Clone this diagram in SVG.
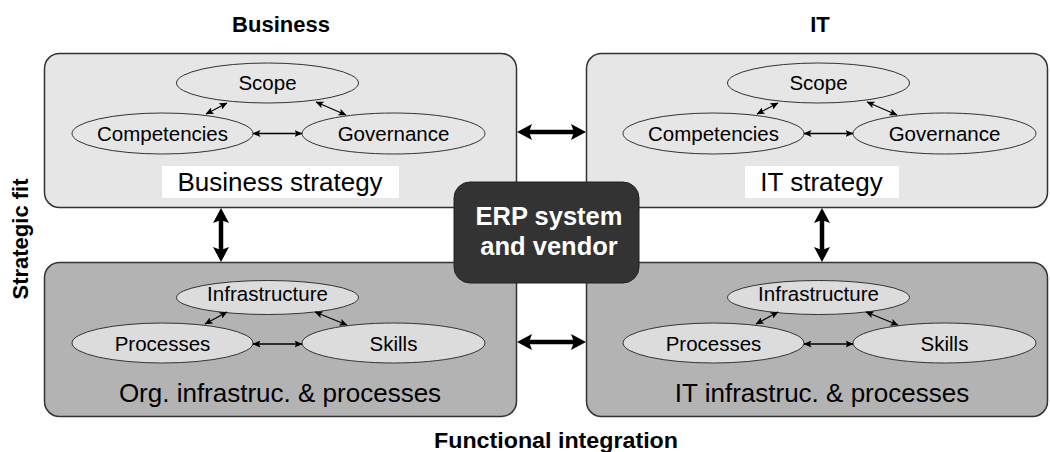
<svg xmlns="http://www.w3.org/2000/svg" width="1050" height="452" viewBox="0 0 1050 452">
<style>
  .title { font-family: "Liberation Sans", Arial, sans-serif; font-weight: bold; font-size: 22px; fill: #000; text-anchor: middle; }
  .box-light { fill: #e6e6e6; stroke: #333; stroke-width: 1.5; }
  .box-dark { fill: #b3b3b3; stroke: #333; stroke-width: 1.5; }
  .ell-light { fill: #e6e6e6; stroke: #333; stroke-width: 1; }
  .ell-dark { fill: #dcdcdc; stroke: #333; stroke-width: 1; }
  .lbl { font-family: "Liberation Sans", Arial, sans-serif; font-size: 20.5px; fill: #000; text-anchor: middle; }
  .big { font-family: "Liberation Sans", Arial, sans-serif; font-size: 26px; fill: #000; text-anchor: middle; }
  .erp { font-family: "Liberation Sans", Arial, sans-serif; font-weight: bold; font-size: 25.5px; fill: #fff; text-anchor: middle; }
  .thick { stroke: #000; stroke-width: 4.5; fill: none; marker-start: url(#bigHead); marker-end: url(#bigHead); }
  .thin { stroke: #000; stroke-width: 1.3; fill: none; marker-start: url(#smallHead); marker-end: url(#smallHead); }
</style>
<defs>
  <marker id="bigHead" viewBox="0 0 15 16" markerWidth="15" markerHeight="16" markerUnits="userSpaceOnUse" refX="10" refY="8" orient="auto-start-reverse">
    <path d="M0,0 L15,8 L0,16 L3,8 z" fill="#000"/>
  </marker>
  <marker id="smallHead" viewBox="0 0 8 7" markerWidth="8" markerHeight="7" markerUnits="userSpaceOnUse" refX="7.5" refY="3.5" orient="auto-start-reverse">
    <path d="M0,0 L8,3.5 L0,7 L1.8,3.5 z" fill="#000"/>
  </marker>
</defs>
<rect width="1050" height="452" fill="#fff"/>

<text class="title" x="281" y="32">Business</text>
<text class="title" x="820" y="32">IT</text>
<text class="title" x="556" y="448" textLength="244" lengthAdjust="spacingAndGlyphs">Functional integration</text>
<text class="title" font-size="21" transform="translate(28,239) rotate(-90)">Strategic fit</text>

<g id="business-strategy">
  <rect class="box-light" x="44.5" y="53.5" width="472" height="154" rx="15" ry="15"/>
  <ellipse class="ell-light" cx="267.5" cy="83" rx="91" ry="20"/>
  <ellipse class="ell-light" cx="162.5" cy="133.5" rx="90.5" ry="20.5"/>
  <ellipse class="ell-light" cx="393.5" cy="133.5" rx="91.5" ry="20.5"/>
  <text class="lbl" x="267.5" y="90">Scope</text>
  <text class="lbl" x="162.5" y="141">Competencies</text>
  <text class="lbl" x="393.5" y="141">Governance</text>
  <rect x="162" y="166" width="237" height="32" fill="#fff"/>
  <text class="big" x="280" y="191">Business strategy</text>
  <line class="thin" x1="253" y1="133.5" x2="302" y2="133.5"/>
  <line class="thin" x1="206" y1="114" x2="227" y2="103"/>
  <line class="thin" x1="316" y1="102" x2="346" y2="115"/>
</g>

<g id="it-strategy">
  <rect class="box-light" x="586.5" y="53.5" width="461" height="154" rx="15" ry="15"/>
  <ellipse class="ell-light" cx="818.5" cy="83" rx="91" ry="20"/>
  <ellipse class="ell-light" cx="713.5" cy="133.5" rx="90.5" ry="20.5"/>
  <ellipse class="ell-light" cx="944.5" cy="133.5" rx="91.5" ry="20.5"/>
  <text class="lbl" x="818.5" y="90">Scope</text>
  <text class="lbl" x="713.5" y="141">Competencies</text>
  <text class="lbl" x="944.5" y="141">Governance</text>
  <rect x="745" y="166" width="154" height="32" fill="#fff"/>
  <text class="big" x="821.5" y="191">IT strategy</text>
  <line class="thin" x1="804" y1="133.5" x2="853" y2="133.5"/>
  <line class="thin" x1="757" y1="114" x2="778" y2="103"/>
  <line class="thin" x1="867" y1="102" x2="897" y2="115"/>
</g>

<g id="org-infrastructure">
  <rect class="box-dark" x="44.5" y="262.5" width="472" height="154" rx="15" ry="15"/>
  <ellipse class="ell-dark" cx="267.5" cy="297.5" rx="91" ry="17"/>
  <ellipse class="ell-dark" cx="162.5" cy="343" rx="90.5" ry="20"/>
  <ellipse class="ell-dark" cx="393.5" cy="343" rx="91.5" ry="20"/>
  <text class="lbl" x="267.5" y="300.5">Infrastructure</text>
  <text class="lbl" x="162.5" y="350.5">Processes</text>
  <text class="lbl" x="393.5" y="350.5">Skills</text>
  <text class="big" x="280" y="402">Org. infrastruc. &amp; processes</text>
  <line class="thin" x1="253" y1="344" x2="302" y2="344"/>
  <line class="thin" x1="205" y1="324" x2="227" y2="312"/>
  <line class="thin" x1="315" y1="312" x2="347" y2="325"/>
</g>

<g id="it-infrastructure">
  <rect class="box-dark" x="586.5" y="262.5" width="461" height="154" rx="15" ry="15"/>
  <ellipse class="ell-dark" cx="818.5" cy="297.5" rx="91" ry="17"/>
  <ellipse class="ell-dark" cx="713.5" cy="343" rx="90.5" ry="20"/>
  <ellipse class="ell-dark" cx="944.5" cy="343" rx="91.5" ry="20"/>
  <text class="lbl" x="818.5" y="300.5">Infrastructure</text>
  <text class="lbl" x="713.5" y="350.5">Processes</text>
  <text class="lbl" x="944.5" y="350.5">Skills</text>
  <text class="big" x="822" y="402">IT infrastruc. &amp; processes</text>
  <line class="thin" x1="804" y1="344" x2="853" y2="344"/>
  <line class="thin" x1="756" y1="324" x2="778" y2="312"/>
  <line class="thin" x1="866" y1="312" x2="898" y2="325"/>
</g>

<g id="connectors">
  <line class="thick" x1="522" y1="132" x2="581" y2="132"/>
  <line class="thick" x1="522" y1="342" x2="581" y2="342"/>
  <line class="thick" x1="221" y1="213" x2="221" y2="257"/>
  <line class="thick" x1="822" y1="213" x2="822" y2="257"/>
</g>

<g id="erp-system">
  <rect x="454" y="182" width="185" height="101" rx="16" ry="16" fill="#333" stroke="#222" stroke-width="1"/>
  <text class="erp" x="549" y="225">ERP system</text>
  <text class="erp" x="549" y="255">and vendor</text>
</g>
</svg>
